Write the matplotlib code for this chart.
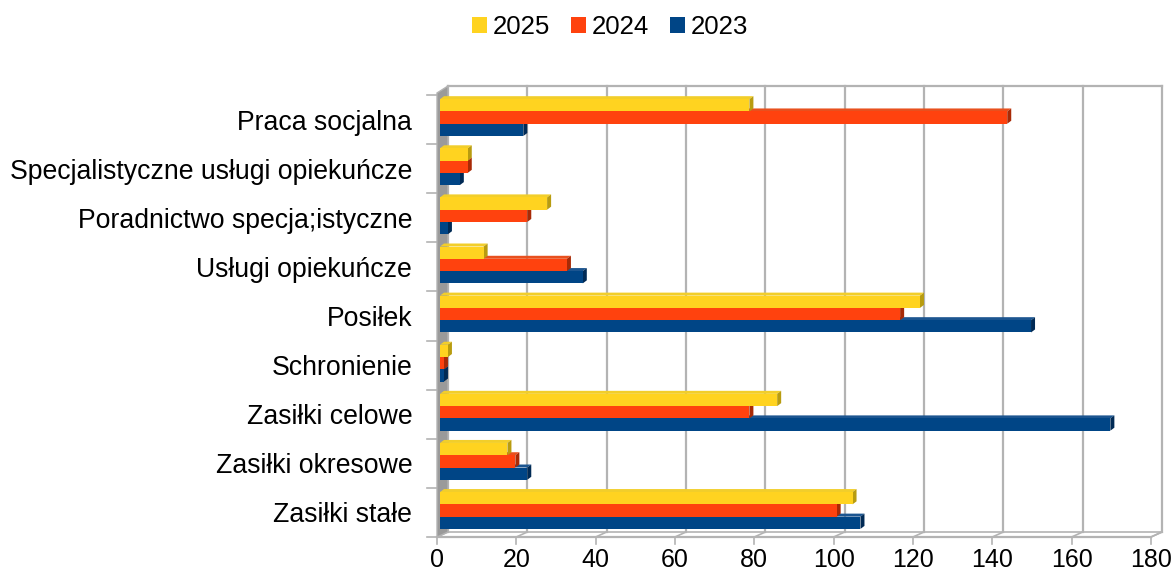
import matplotlib
matplotlib.use('Agg')
import matplotlib.pyplot as plt
from matplotlib.patches import Polygon, Patch
from matplotlib.lines import Line2D
import matplotlib.transforms as mtransforms

categories = ['Praca socjalna', 'Specjalistyczne usługi opiekuńcze',
              'Poradnictwo specja;istyczne', 'Usługi opiekuńcze', 'Posiłek',
              'Schronienie', 'Zasiłki celowe', 'Zasiłki okresowe', 'Zasiłki stałe']
v2025 = [78, 7, 27, 11, 121, 2, 85, 17, 104]
v2024 = [143, 7, 22, 32, 116, 1, 78, 19, 100]
v2023 = [21, 5, 2, 36, 149, 1, 169, 22, 106]
series_labels = ['2025', '2024', '2023']
xticks = list(range(0, 181, 20))

plt.rcParams['font.family'] = ['Liberation Sans', 'DejaVu Sans']
FS_Y = 19.2
FS_X = 18
FS_L = 18.6

W, H = 1173, 581
fig = plt.figure(figsize=(W / 100, H / 100), dpi=100)
L, R, T, B = 440, 1154, 95, 537
ax = fig.add_axes([L / W, 1 - B / H, (R - L) / W, (B - T) / H])
ax.set_xlim(0, 180)
n = len(categories)
ax.set_ylim(n - 0.5, -0.5)
for s in ax.spines.values():
    s.set_visible(False)
ax.patch.set_visible(False)

colors = {'2025': ('#FFD320', '#B89C10', '#F2CE2A'),
          '2024': ('#FF420E', '#A82A06', '#E8501E'),
          '2023': ('#004586', '#002A55', '#1C5590')}
data = {'2025': v2025, '2024': v2024, '2023': v2023}
offs = {'2025': -0.25, '2024': 0.0, '2023': 0.25}
bh = 0.25

ys = list(range(n))
d = 4
bars_all = {}
for lab in ['2023', '2024', '2025']:
    front, side, top = colors[lab]
    bc = ax.barh([y + offs[lab] - 0.04 for y in ys], data[lab], height=bh,
                 color=front, zorder=3, label=lab)
    bars_all[lab] = bc

fig.canvas.draw()
tr = ax.transData
x0d = tr.transform((0, 0))[0]
x180d = tr.transform((180, 0))[0]
scale = (x180d - x0d) / 180.0

back_dx, back_top, back_bot = 8, 86, 532
front_dx, front_y = -3, 537
IDT = mtransforms.IdentityTransform()

deco = []
for t in xticks:
    xb = x0d + t * scale + back_dx
    xf = x0d + t * scale + front_dx
    deco.append(Line2D([xb, xb], [H - back_bot, H - back_top], color='#B3B3B3', lw=1.6, zorder=1))
    deco.append(Line2D([xf, xb], [H - front_y, H - back_bot], color='#B3B3B3', lw=1.2, zorder=1))
    deco.append(Line2D([xf, xf], [H - front_y, H - front_y - 7], color='#B3B3B3', lw=1.2, zorder=1))
xb0 = x0d + back_dx
xb1 = x0d + 180 * scale + back_dx
xf0 = x0d + front_dx
xf1 = x0d + 180 * scale + front_dx
deco.append(Line2D([xb0, xb1], [H - back_top, H - back_top], color='#B3B3B3', lw=1.6, zorder=1))
deco.append(Line2D([xb0, xb1], [H - back_bot, H - back_bot], color='#B3B3B3', lw=1.2, zorder=1))
deco.append(Line2D([xf0, xf1], [H - front_y, H - front_y], color='#B3B3B3', lw=1.6, zorder=1))
deco.append(Line2D([xf1, xb1], [H - front_y, H - back_bot], color='#B3B3B3', lw=1.2, zorder=1))
for ln in deco:
    ln.set_transform(IDT)
    fig.add_artist(ln)

lw_poly = Polygon([(xf0, H - front_y), (xf0, H - 93), (xb0, H - back_top), (xb0, H - back_bot)],
                  closed=True, facecolor='#9A9A9A', edgecolor='#B3B3B3', lw=1,
                  transform=IDT, zorder=2)
fig.add_artist(lw_poly)

for k in range(n + 1):
    yd = tr.transform((0, k - 0.5))[1]
    ln = Line2D([xf0 - 10, xf0], [yd, yd], color='#B3B3B3', lw=1.2, transform=IDT, zorder=1)
    fig.add_artist(ln)

for lab in ['2023', '2024', '2025']:
    front, side, top = colors[lab]
    for p in bars_all[lab]:
        bb = p.get_window_extent()
        x0, y0, x1, y1 = bb.x0, bb.y0, bb.x1, bb.y1
        topf = Polygon([(x0, y1), (x1, y1), (x1 + d, y1 + 3), (x0 + d, y1 + 3)], closed=True,
                       facecolor=top, edgecolor='none', transform=IDT, zorder=3)
        endf = Polygon([(x1, y0), (x1, y1), (x1 + d, y1 + 3), (x1 + d, y0 + 3)], closed=True,
                       facecolor=side, edgecolor='none', transform=IDT, zorder=3)
        fig.add_artist(topf)
        fig.add_artist(endf)
    for p in bars_all[lab]:
        bb = p.get_window_extent()
        fr = Polygon([(bb.x0, bb.y0), (bb.x1, bb.y0), (bb.x1, bb.y1), (bb.x0, bb.y1)], closed=True,
                     facecolor=front, edgecolor='none', transform=IDT, zorder=3)
        fig.add_artist(fr)

ax.set_yticks(ys)
ax.set_yticklabels(categories, fontsize=FS_Y)
ax.tick_params(axis='y', length=0, pad=20)
ax.set_xticks(xticks)
ax.set_xticklabels([str(t) for t in xticks], fontsize=FS_X)
ax.tick_params(axis='x', length=0, pad=8)
shift = mtransforms.ScaledTranslation(-3 / 100, 0, fig.dpi_scale_trans)
for lbl in ax.get_xticklabels():
    lbl.set_transform(lbl.get_transform() + shift)

handles = [Patch(facecolor=colors[l][0], edgecolor='none') for l in series_labels]
fig.legend(handles, series_labels, loc='center', bbox_to_anchor=(610 / W, 1 - 27 / H),
           ncol=3, frameon=False, fontsize=FS_L, handlelength=0.6, handleheight=0.6,
           handletextpad=0.22, columnspacing=0.8)

fig.savefig('out.png', dpi=100)
